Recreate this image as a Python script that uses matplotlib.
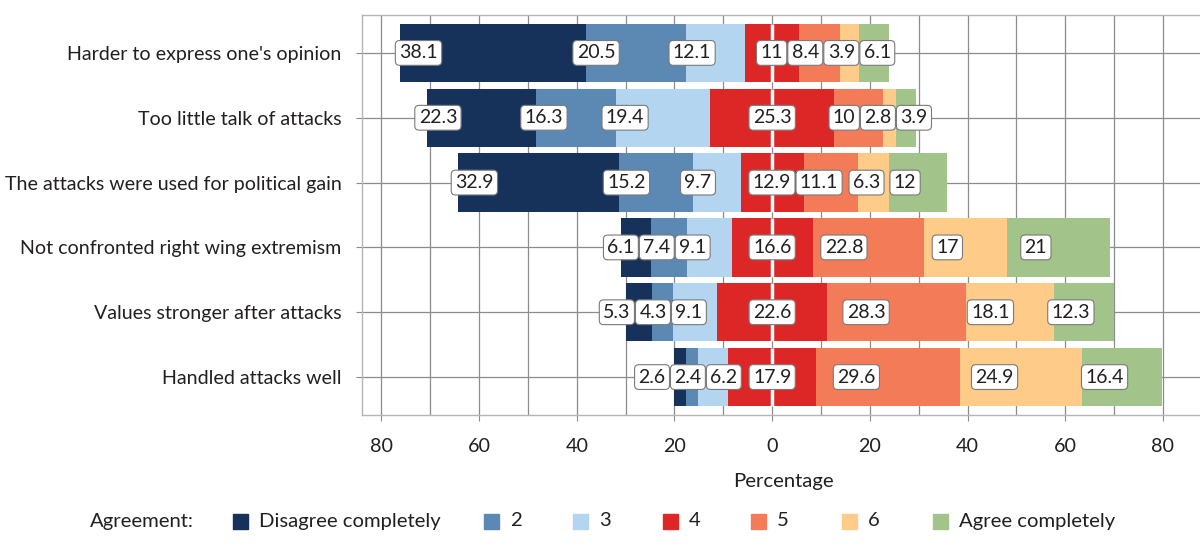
import matplotlib.pyplot as plt
from matplotlib.patches import Rectangle
import numpy as np

plt.rcParams['font.family'] = ['Lato', 'DejaVu Sans']

categories = ["Harder to express one's opinion",
              "Too little talk of attacks",
              "The attacks were used for political gain",
              "Not confronted right wing extremism",
              "Values stronger after attacks",
              "Handled attacks well"]
levels = ["Disagree completely", "2", "3", "4", "5", "6", "Agree completely"]

disagree = [38.1, 22.3, 32.9, 6.1, 5.3, 2.6]
two = [20.5, 16.3, 15.2, 7.4, 4.3, 2.4]
three = [12.1, 19.4, 9.7, 9.1, 9.1, 6.2]
four = [11, 25.3, 12.9, 16.6, 22.6, 17.9]
five = [8.4, 10, 11.1, 22.8, 28.3, 29.6]
six = [3.9, 2.8, 6.3, 17, 18.1, 24.9]
agree = [6.1, 3.9, 12, 21, 12.3, 16.4]

colors = ['#17325a', '#5b89b4', '#b4d5f0', '#dd2727', '#f47b57', '#fecb88', '#a2c38a']
text_col = '#231f20'
grid_col = '#8c8c8c'

W, H = 1200, 548
fig = plt.figure(figsize=(W / 100, H / 100), dpi=100)
ax = fig.add_axes([362.3 / W, 1 - 415 / H, (1205 - 362.3) / W, 400 / H])

vals = np.array([disagree, two, three, four, five, six, agree])
ypos = np.arange(len(categories))[::-1] + 1.0

# diverging stack, level 4 split around zero
half = vals[3] / 2
lefts = np.zeros_like(vals)
lefts[3] = -half
lefts[2] = -half - vals[2]
lefts[1] = lefts[2] - vals[1]
lefts[0] = lefts[1] - vals[0]
lefts[4] = half
lefts[5] = lefts[4] + vals[4]
lefts[6] = lefts[5] + vals[5]

bh = 0.9
for k in range(7):
    ax.barh(ypos, vals[k], left=lefts[k], height=bh, color=colors[k],
            linewidth=0, zorder=2)
ax.vlines(np.zeros_like(ypos), ypos - bh / 2, ypos + bh / 2, colors='white', lw=2.5, zorder=3)

ax.set_xlim(-83.9, 88.6)
ax.set_ylim(0.415, 6.585)

# label anchors
anchors = np.zeros_like(vals)
for k in range(3):
    anchors[k] = lefts[k] + 0.1 * vals[k]
for k in range(4, 7):
    anchors[k] = lefts[k] + 0.28 * vals[k]

fs_lab = 14
pad = 0.2
texts = {}
for k in range(7):
    for i in range(len(categories)):
        v = vals[k, i]
        s = ('%g' % v)
        texts[(k, i)] = ax.text(anchors[k, i], ypos[i], s, ha='center', va='center',
                                fontsize=fs_lab, color=text_col, zorder=5,
                                bbox=dict(boxstyle='round,pad=%g,rounding_size=0.22' % pad,
                                          fc='white', ec='#7a7a7a', lw=0.8))

fig.canvas.draw()
r = fig.canvas.get_renderer()
px_per_unit = ax.get_window_extent().width / (88.6 + 83.9)
pad_px = 2 * pad * fs_lab * 100 / 72
gap = 1.0 / px_per_unit

# simple 1d repel inside each row
for i in range(len(categories)):
    xs = anchors[:, i].copy()
    ws = np.array([(texts[(k, i)].get_window_extent(r).width + pad_px) / px_per_unit
                   for k in range(7)])
    for it in range(300):
        order = np.argsort(xs)
        moved = False
        for a, b in zip(order[:-1], order[1:]):
            ov = (xs[a] + ws[a] / 2 + gap) - (xs[b] - ws[b] / 2)
            if ov > 1e-4:
                xs[a] -= ov / 2
                xs[b] += ov / 2
                moved = True
        if not moved:
            break
    for k in range(7):
        texts[(k, i)].set_x(xs[k])

ticks = np.arange(-80, 81, 20)
ax.set_xticks(ticks)
ax.set_xticklabels([str(abs(t)) for t in ticks])
ax.set_xticks(np.arange(-80, 81, 10), minor=True)
ax.set_yticks(ypos)
ax.set_yticklabels(categories)
ax.tick_params(axis='x', which='major', length=4.3, width=0.8, color=grid_col,
               labelsize=14.2, labelcolor=text_col, pad=12)
ax.tick_params(axis='x', which='minor', length=0)
ax.tick_params(axis='y', length=4.3, width=0.8, color=grid_col,
               labelsize=14.1, labelcolor=text_col, pad=10.5)
ax.grid(which='both', axis='x', color=grid_col, lw=0.9, zorder=0)
ax.grid(which='major', axis='y', color=grid_col, lw=0.9, zorder=0)
ax.set_axisbelow(True)
for sp in ['left', 'top', 'bottom']:
    ax.spines[sp].set_color('#b5b5b5')
    ax.spines[sp].set_linewidth(1)
ax.spines['right'].set_visible(False)

ax.set_xlabel('Percentage', fontsize=14.6, color=text_col, labelpad=13)

# legend along the bottom
ly = 1 - 521 / H
fig.text(89.5 / W, ly, 'Agreement:', fontsize=14.6, color=text_col, va='center', ha='left')
patch_x = [233, 484, 573, 662.6, 751, 842, 933]
for k in range(7):
    fig.patches.append(Rectangle((patch_x[k] / W, ly - 7.5 / H), 15 / W, 15 / H,
                                 transform=fig.transFigure, color=colors[k]))
    fig.text((patch_x[k] + 26) / W, ly, levels[k], fontsize=14.6, color=text_col,
             va='center', ha='left')

fig.savefig('out.png', dpi=100)
